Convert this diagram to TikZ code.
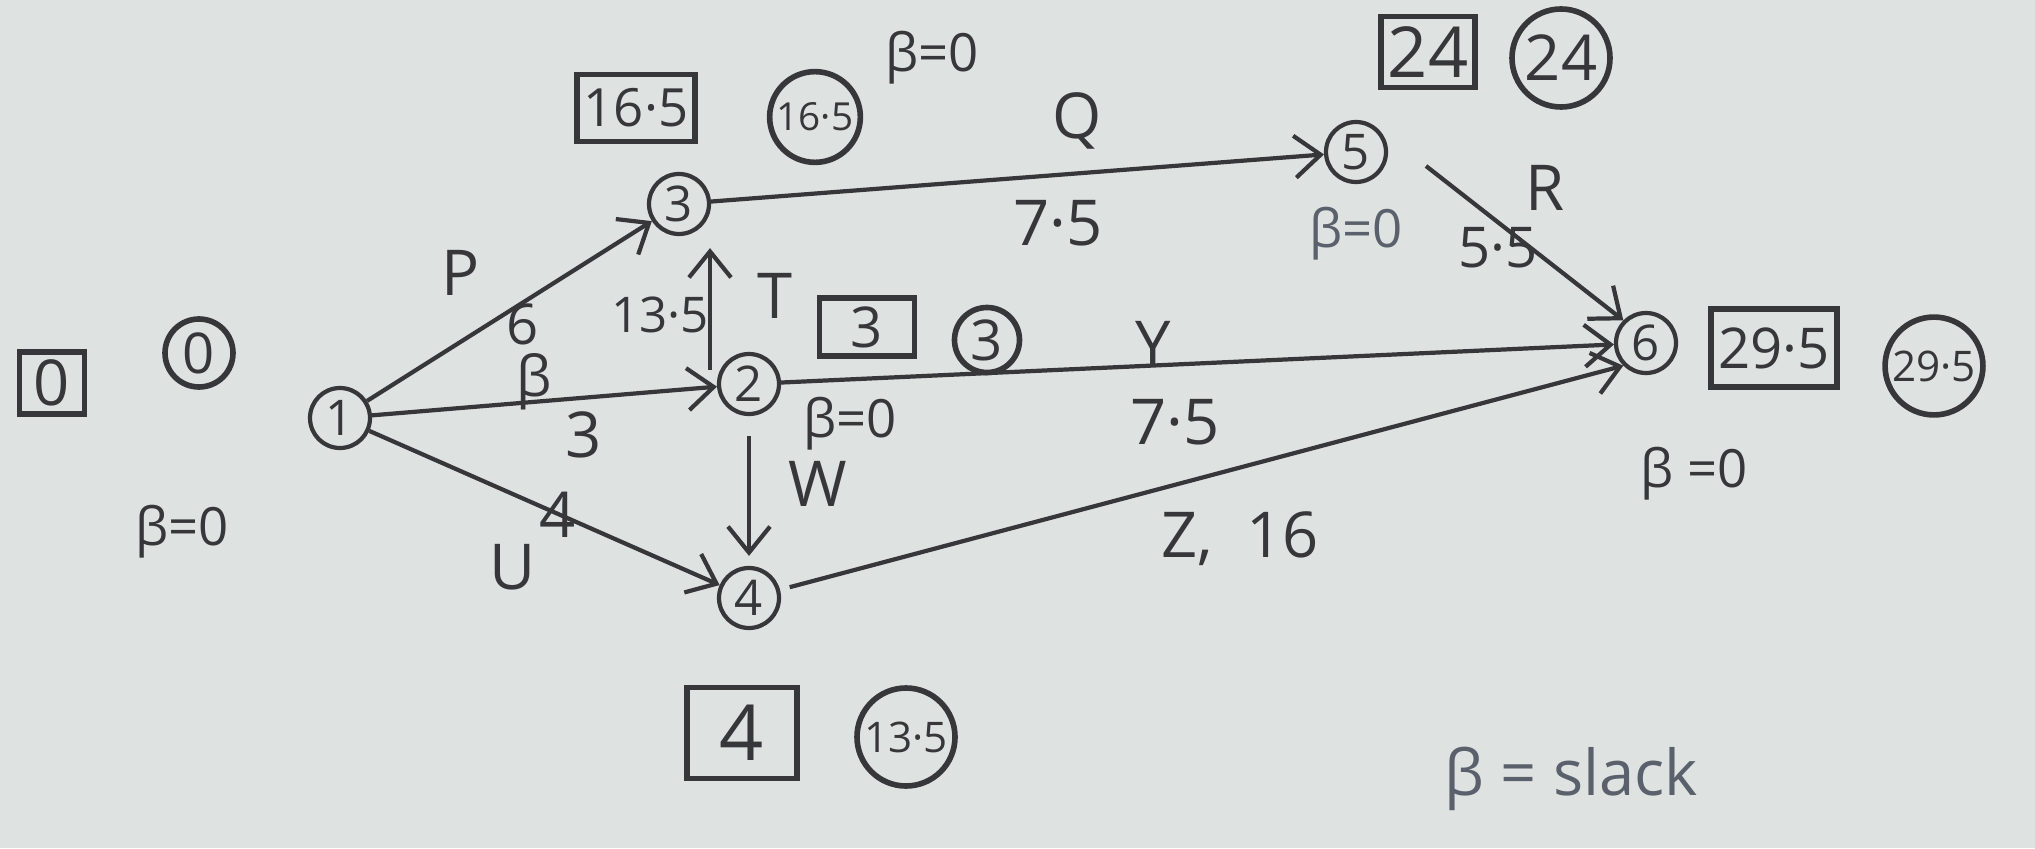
\documentclass[tikz,border=0pt]{standalone}
\usepackage{fontspec}
\setmainfont{Open Sans}
\usetikzlibrary{arrows.meta, positioning, calc}
\definecolor{paper}{RGB}{222,226,224}
\definecolor{ink}{RGB}{55,55,58}
\definecolor{softink}{RGB}{90,96,108}

\begin{document}
\begin{tikzpicture}[
    >={Straight Barb[length=2.6mm, width=4.2mm, line width=1.2pt]},
    event/.style={circle, draw=ink, line width=1.2pt, minimum size=0.6cm, inner sep=0pt, text=ink, font=\fontsize{14}{14}\selectfont},
    early/.style={rectangle, draw=ink, line width=1.6pt, inner sep=2pt, text=ink, font=\fontsize{18}{18}\selectfont},
    late/.style={circle, draw=ink, line width=1.6pt, inner sep=1pt, text=ink, font=\fontsize{12}{12}\selectfont},
    arrow/.style={->, draw=ink, line width=1.2pt},
    act/.style={text=ink, font=\fontsize{18}{18}\selectfont},
    slack/.style={text=ink, font=\fontsize{15}{15}\selectfont},
]

% === Paper ===
\fill[paper] (0,0) rectangle (20.35,8.48);
\useasboundingbox (0,0) rectangle (20.35,8.48);

% === Events ===
\node (n1) [event] at (3.40,4.30) {1};
\node (n2) [event] at (7.49,4.64) {2};
\node (n3) [event] at (6.79,6.44) {3};
\node (n4) [event] at (7.49,2.50) {4};
\node (n5) [event] at (13.56,6.96) {5};
\node (n6) [event] at (16.46,5.05) {6};

% === Earliest (box) and latest (circle) times ===
\node (e1) [early, minimum width=0.65cm, minimum height=0.62cm] at (0.52,4.65) {0};
\node (l1) [late, minimum size=0.68cm, font=\fontsize{16}{16}\selectfont] at (1.99,4.95) {0};
\node (e3) [early, minimum width=0.91cm, minimum height=0.67cm, font=\fontsize{15}{15}\selectfont] at (6.36,7.40) {16·5};
\node (l3) [late, minimum size=0.78cm, font=\fontsize{11}{11}\selectfont] at (8.15,7.31) {16·5};
\node (e2) [early, minimum width=0.95cm, minimum height=0.58cm, font=\fontsize{16}{16}\selectfont] at (8.67,5.21) {3};
\node (l2) [late, minimum size=0.65cm, font=\fontsize{16}{16}\selectfont] at (9.87,5.08) {3};
\node (e4) [early, minimum width=1.10cm, minimum height=0.91cm, font=\fontsize{22}{22}\selectfont] at (7.42,1.15) {4};
\node (l4) [late, minimum size=0.98cm] at (9.06,1.11) {13·5};
\node (e5) [early, minimum width=0.93cm, minimum height=0.71cm, font=\fontsize{20}{20}\selectfont] at (14.28,7.96) {24};
\node (l5) [late, minimum size=0.98cm, font=\fontsize{18}{18}\selectfont] at (15.61,7.90) {24};
\node (e6) [early, minimum width=1.23cm, minimum height=0.78cm, font=\fontsize{16}{16}\selectfont] at (17.74,5.00) {29·5};
\node (l6) [late, minimum size=0.95cm] at (19.34,4.82) {29·5};

% === Activities ===
\draw[arrow] (n1) -- (n3);
\draw[arrow] (n1) -- (n2);
\draw[arrow] (n1) -- (n4);
\draw[arrow] ([xshift=-3.9mm, yshift=1.4mm]n2.center) -- ([xshift=-3.9mm, yshift=-1.2mm]n2.center |- n3.south);
\draw[arrow, shorten <=2mm, shorten >=1mm] (n2) -- (n4);
\draw[arrow] (n3) -- (n5);
\draw[arrow] ([xshift=7mm, yshift=-1.4mm]n5.center) -- (n6.north west);
\draw[arrow] (n2) -- (n6);
\draw[arrow, shorten <=1mm] (n4) -- (n6.south west);

% === Activity names and durations ===
\node (tP) [act] at (4.61,5.75) {P};
\node (dP) [act, font=\fontsize{16}{16}\selectfont] at (5.23,5.24) {6};
\node (tS) [act, font=\fontsize{16}{16}\selectfont] at (5.34,4.66) {β};
\node (dS) [act] at (5.84,4.13) {3};
\node (dU) [act] at (5.58,3.33) {4};
\node (tU) [act] at (5.13,2.81) {U};
\node (dT) [act, font=\fontsize{14}{14}\selectfont] at (6.60,5.33) {13·5};
\node (tT) [act] at (7.75,5.52) {T};
\node (tW) [act] at (8.18,3.64) {W};
\node (tQ) [act] at (10.77,7.27) {Q};
\node (dQ) [act] at (10.58,6.25) {7·5};
\node (tR) [act] at (15.45,6.60) {R};
\node (dR) [act, font=\fontsize{16}{16}\selectfont] at (14.98,6.00) {5·5};
\node (tY) [act] at (11.53,5.04) {Y};
\node (dY) [act] at (11.75,4.26) {7·5};
\node (tZ) [act] at (12.40,3.09) {Z,\; 16};

% === Slack notes ===
\node (s1) [slack] at (1.82,3.16) {β=0};
\node (s3) [slack] at (9.32,7.90) {β=0};
\node (s2) [slack] at (8.50,4.24) {β=0};
\node (s5) [slack, text=softink] at (13.56,6.14) {β=0};
\node (s6) [slack] at (16.94,3.74) {β =0};
\node (key) [slack, text=softink, font=\fontsize{18}{18}\selectfont] at (15.71,0.69) {β = slack};

\end{tikzpicture}
\end{document}
